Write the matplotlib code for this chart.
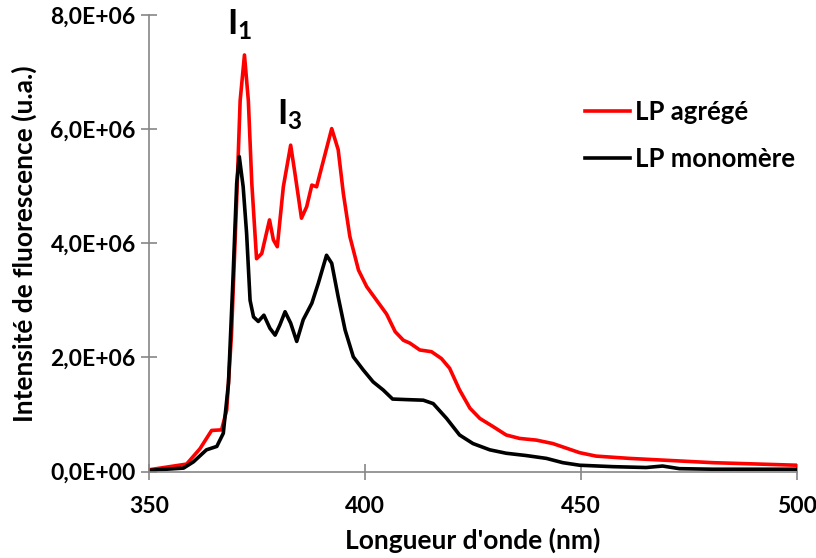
import matplotlib
matplotlib.use("Agg")
import matplotlib.pyplot as plt
from matplotlib.ticker import FuncFormatter

plt.rcParams['font.family'] = ['Lato', 'DejaVu Sans']
plt.rcParams['font.weight'] = 'bold'
plt.rcParams['mathtext.fontset'] = 'custom'
plt.rcParams['mathtext.bf'] = 'Lato:bold'
plt.rcParams['mathtext.rm'] = 'Lato:bold'

# spectres (longueur d'onde en nm, intensite en 1e6 u.a.)
wl_agrege = [350, 358.7, 361.8, 364.5, 366.8, 368, 369.1, 370.3, 371.1, 372.1, 373, 373.8,
             374.9, 376.1, 377.9, 378.8, 379.7, 381.1, 382.8, 383.8, 385.3, 386.5, 387.7,
             388.8, 390, 392.3, 393.8, 395, 396.5, 398.5, 400.4, 402.7, 405, 407, 408.9,
             410.4, 412.7, 415.4, 417.7, 419.6, 421.9, 424.3, 426.6, 429.6, 432.7, 435.8,
             439.7, 443.5, 446.6, 449.7, 453.5, 461.2, 468.9, 480.5, 500]
int_agrege = [0.03, 0.13, 0.40, 0.72, 0.73, 1.08, 2.4, 4.76, 6.5, 7.3, 6.5, 5.05,
              3.73, 3.82, 4.41, 4.06, 3.94, 4.99, 5.72, 5.22, 4.44, 4.64, 5.02,
              4.99, 5.34, 6.01, 5.64, 4.87, 4.12, 3.53, 3.24, 3.0, 2.76, 2.45, 2.30,
              2.25, 2.13, 2.10, 1.98, 1.81, 1.43, 1.11, 0.93, 0.79, 0.64, 0.58,
              0.55, 0.49, 0.41, 0.33, 0.27, 0.23, 0.20, 0.155, 0.11]

wl_mono = [350, 358, 360.3, 363.3, 365.7, 367.2, 368.4, 369.4, 370.3, 370.9, 371.8, 372.6,
           373.4, 374.2, 375.3, 376.6, 378, 379.2, 380.3, 381.5, 382.8, 384.2, 385.7,
           387.7, 389.2, 391.1, 392.3, 393.8, 395.4, 397.3, 399.6, 401.9, 404.2, 406.4,
           409.7, 413.5, 415.8, 418.9, 421.9, 425, 428.9, 432.7, 437.3, 442, 445.8,
           449.7, 457.4, 465.1, 468.9, 472.8, 480.5, 500]
int_mono = [0.02, 0.06, 0.17, 0.38, 0.44, 0.67, 1.55, 3.3, 5.05, 5.52, 4.99, 4.17,
            3.0, 2.71, 2.63, 2.74, 2.51, 2.39, 2.57, 2.80, 2.60, 2.28, 2.66,
            2.95, 3.3, 3.79, 3.65, 3.06, 2.48, 2.01, 1.78, 1.57, 1.43, 1.27,
            1.26, 1.25, 1.19, 0.93, 0.64, 0.49, 0.38, 0.32, 0.28, 0.23, 0.155,
            0.11, 0.085, 0.07, 0.096, 0.05, 0.04, 0.04]

fig = plt.figure(figsize=(8.16, 5.58), dpi=100)
ax = fig.add_axes([0.1826, 0.155, 0.794, 0.818])

ax.plot(wl_agrege, [v * 1e6 for v in int_agrege], color='#ff0000', lw=2.6,
        solid_joinstyle='round', label='LP agrégé')
ax.plot(wl_mono, [v * 1e6 for v in int_mono], color='#000000', lw=2.6,
        solid_joinstyle='round', label='LP monomère')

ax.set_xlim(350, 500)
ax.set_ylim(0, 8e6)
ax.set_xticks([350, 400, 450, 500])
ax.set_yticks([0, 2e6, 4e6, 6e6, 8e6])
ax.yaxis.set_major_formatter(FuncFormatter(lambda v, p: ('%.1E' % v).replace('.', ',')))

for s in ['top', 'right']:
    ax.spines[s].set_visible(False)
for s in ['left', 'bottom']:
    ax.spines[s].set_color('#868686')
    ax.spines[s].set_linewidth(1.2)
ax.tick_params(direction='inout', length=11, width=1.2, color='#868686',
               labelsize=16.5, pad=4)
ax.tick_params(axis='x', pad=12)

ax.set_xlabel("Longueur d'onde (nm)", fontsize=19, fontweight='bold', labelpad=8)
ax.set_ylabel("Intensité de fluorescence (u.a.)", fontsize=19, fontweight='bold', labelpad=10)

ax.text(370.9, 7.52e6, r'$\mathbf{I_1}$', fontsize=25, ha='center', va='bottom')
ax.text(382.6, 5.95e6, r'$\mathbf{I_3}$', fontsize=25, ha='center', va='bottom')

ax.legend(loc='upper left', bbox_to_anchor=(0.673, 0.813), frameon=False, fontsize=18.5,
          handlelength=1.75, handletextpad=0.2, labelspacing=0.88,
          borderpad=0, borderaxespad=0)

fig.savefig('out.png', dpi=100)
